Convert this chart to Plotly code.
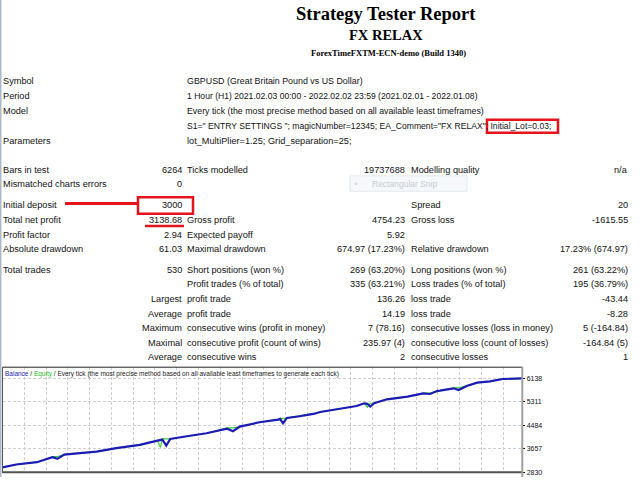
import plotly.graph_objects as go

W, H = 640, 480

# ---- report text ----
title_lines = ["Strategy Tester Report", "FX RELAX", "ForexTimeFXTM-ECN-demo (Build 1340)"]

info_labels = ["Symbol", "Period", "Model", "", "Parameters"]
info_values = [
    "GBPUSD (Great Britain Pound vs US Dollar)",
    "1 Hour (H1) 2021.02.03 00:00 - 2022.02.02 23:59 (2021.02.01 - 2022.01.08)",
    "Every tick (the most precise method based on all available least timeframes)",
    'S1=" ENTRY SETTINGS "; magicNumber=12345; EA_Comment="FX RELAX"; Initial_Lot=0.03;',
    "lot_MultiPlier=1.25; Grid_separation=25;",
]

# label, value | label, value | label, value
stats_rows = [
    ["Bars in test", "6264", "Ticks modelled", "19737688", "Modelling quality", "n/a"],
    ["Mismatched charts errors", "0", "", "", "", ""],
    ["Initial deposit", "3000", "", "", "Spread", "20"],
    ["Total net profit", "3138.68", "Gross profit", "4754.23", "Gross loss", "-1615.55"],
    ["Profit factor", "2.94", "Expected payoff", "5.92", "", ""],
    ["Absolute drawdown", "61.03", "Maximal drawdown", "674.97 (17.23%)",
     "Relative drawdown", "17.23% (674.97)"],
]
trade_rows = [
    ["Total trades", "530", "Short positions (won %)", "269 (63.20%)",
     "Long positions (won %)", "261 (63.22%)"],
    ["", "", "Profit trades (% of total)", "335 (63.21%)",
     "Loss trades (% of total)", "195 (36.79%)"],
    ["", "Largest", "profit trade", "136.26", "loss trade", "-43.44"],
    ["", "Average", "profit trade", "14.19", "loss trade", "-8.28"],
    ["", "Maximum", "consecutive wins (profit in money)", "7 (78.16)",
     "consecutive losses (loss in money)", "5 (-164.84)"],
    ["", "Maximal", "consecutive profit (count of wins)", "235.97 (4)",
     "consecutive loss (count of losses)", "-164.84 (5)"],
    ["", "Average", "consecutive wins", "2", "consecutive losses", "1"],
]

# ---- balance / equity curve ----
trades = [0, 14, 35, 51, 56, 63, 79, 96, 116, 140, 158, 161, 163, 167, 171, 188, 208,
          229, 235, 242, 262, 281, 283, 286, 290, 303, 317, 324, 341, 361, 369, 372,
          375, 379, 382, 392, 413, 429, 436, 443, 446, 460, 465, 474, 484, 497, 510, 530]
balance = [3000, 3100, 3182, 3358, 3300, 3452, 3499, 3557, 3675, 3792, 3944, 3960, 3980,
           3768, 4003, 4097, 4203, 4360, 4273, 4437, 4590, 4683, 4707, 4554, 4742, 4801,
           4883, 4953, 5059, 5164, 5258, 5240, 5141, 5260, 5293, 5399, 5493, 5610, 5587,
           5690, 5704, 5786, 5727, 5880, 5986, 6032, 6115, 6138]
equity = [3000, 3100, 3182, 3380, 3380, 3452, 3499, 3557, 3675, 3792, 3944, 3700, 4003,
          4003, 4003, 4097, 4203, 4390, 4390, 4437, 4590, 4683, 4720, 4720, 4742, 4801,
          4900, 4953, 5059, 5164, 5258, 5120, 5260, 5260, 5293, 5399, 5493, 5620, 5620,
          5690, 5704, 5800, 5800, 5880, 5986, 6032, 6115, 6138]
y_ticks = [2830, 3657, 4484, 5311, 6138]

legend_text = ('<span style="color:#1c1cb4">Balance</span> / '
               '<span style="color:#22bb22">Equity</span> / Every tick (the most precise '
               'method based on all available least timeframes to generate each tick)')


def px(x):
    return x / W


def py(y):
    return 1 - y / H


fig = go.Figure()
fig.add_trace(go.Scatter(x=trades, y=equity, mode="lines",
                         line=dict(color="#3ccc3c", width=1.2), hoverinfo="skip"))
fig.add_trace(go.Scatter(x=trades, y=balance, mode="lines",
                         line=dict(color="#1c1cb4", width=2.2), hoverinfo="skip"))

sans = "Liberation Sans, Arial, sans-serif"
serif = "Liberation Serif, Times New Roman, serif"


def text(x, y, s, anchor="left", size=9.2, family=sans, color="#111111"):
    if s == "":
        return
    fig.add_annotation(x=px(x), y=py(y), xref="paper", yref="paper", text=s,
                       showarrow=False, xanchor=anchor, yanchor="middle",
                       font=dict(family=family, size=size, color=color))


# titles
text(386, 14, "<b>" + title_lines[0] + "</b>", "center", 18.5, serif, "#000000")
text(386, 35, "<b>" + title_lines[1] + "</b>", "center", 14.5, serif, "#000000")
text(388, 53.5, "<b>" + title_lines[2] + "</b>", "center", 8.5, serif, "#000000")

info_y = [82, 97, 112, 127, 142]
info_sizes = [8.9, 8.6, 8.8, 8.6, 9.2]
for lab, val, y, fs in zip(info_labels, info_values, info_y, info_sizes):
    text(1, y, lab)
    text(185, y, val, size=fs)

cols = [(1, "left"), (184, "right"), (185, "left"), (407, "right"),
        (408.5, "left"), (630, "right")]
stats_y = [171, 185.5, 206.5, 221, 236, 250.5]
trade_y = [271.5, 286, 301, 315.5, 330.5, 345, 359.5]
for rows, ys in ((stats_rows, stats_y), (trade_rows, trade_y)):
    for row, y in zip(rows, ys):
        for (cx, anc), s in zip(cols, row):
            text(cx, y, s, anc)

# snipping tool remnant
fig.add_shape(type="rect", xref="paper", yref="paper", x0=px(350), x1=px(467),
              y0=py(177), y1=py(192.5), fillcolor="#f6f8fb",
              line=dict(color="#e4eaf1", width=1), layer="below")
fig.add_shape(type="circle", xref="paper", yref="paper", x0=px(354.5), x1=px(357.5),
              y0=py(183.5), y1=py(186.5), fillcolor="#d8dde3", line=dict(width=0))
text(370, 184.8, "Rectangular Snip", size=8.5, color="#c5cad0")

# red highlights
red = "#e5141c"
fig.add_shape(type="rect", xref="paper", yref="paper", x0=px(487), x1=px(558),
              y0=py(120.5), y1=py(133.5), line=dict(color=red, width=2.5))
fig.add_shape(type="rect", xref="paper", yref="paper", x0=px(138), x1=px(193),
              y0=py(198.5), y1=py(215), line=dict(color=red, width=2.5))
fig.add_shape(type="line", xref="paper", yref="paper", x0=px(65), x1=px(138),
              y0=py(204.7), y1=py(204.7), line=dict(color=red, width=3))
fig.add_shape(type="line", xref="paper", yref="paper", x0=px(145), x1=px(184),
              y0=py(227.5), y1=py(227.5), line=dict(color=red, width=2.5))

# page left edge
fig.add_shape(type="line", xref="paper", yref="paper", x0=px(0.7), x1=px(0.7),
              y0=0, y1=1, line=dict(color="#a9b9c9", width=1.5))

# chart frame
fig.add_shape(type="line", xref="paper", yref="paper", x0=px(2.5), x1=px(522.5),
              y0=py(369.5), y1=py(369.5), line=dict(color="#222222", width=1))
fig.add_shape(type="line", xref="paper", yref="paper", x0=px(2.5), x1=px(2.5),
              y0=py(369.5), y1=py(476), line=dict(color="#555555", width=1))
fig.add_shape(type="line", xref="paper", yref="paper", x0=px(2.5), x1=px(522),
              y0=py(475.3), y1=py(475.3), line=dict(color="#505050", width=2))
fig.add_shape(type="line", xref="paper", yref="paper", x0=px(522.3), x1=px(522.3),
              y0=py(369.5), y1=0, line=dict(color="#a0a0a0", width=2))

text(3, 376, legend_text, size=6.5, color="#222222")

fig.update_layout(
    width=W, height=H,
    margin=dict(l=0, r=0, t=0, b=0),
    paper_bgcolor="white", plot_bgcolor="white",
    showlegend=False,
    xaxis=dict(domain=[px(2.5), px(522.3)], range=[0, 530], showticklabels=False,
               showgrid=True, gridcolor="#cfcfcf", griddash="3px,2px", gridwidth=1,
               tick0=0, dtick=22.2, zeroline=False, showline=False, fixedrange=True),
    yaxis=dict(domain=[py(476), py(369.5)], range=[2800, 6531], side="right",
               tickvals=y_ticks, ticktext=[str(v) for v in y_ticks],
               showgrid=True, gridcolor="#cfcfcf", griddash="3px,2px", gridwidth=1,
               ticks="outside", ticklen=2, tickcolor="#000000",
               tickfont=dict(family=sans, size=7, color="#111111"),
               zeroline=False, showline=False, fixedrange=True),
)

fig.write_html("out.html", config={"displayModeBar": False},
               post_script="document.body.style.margin='0';")
